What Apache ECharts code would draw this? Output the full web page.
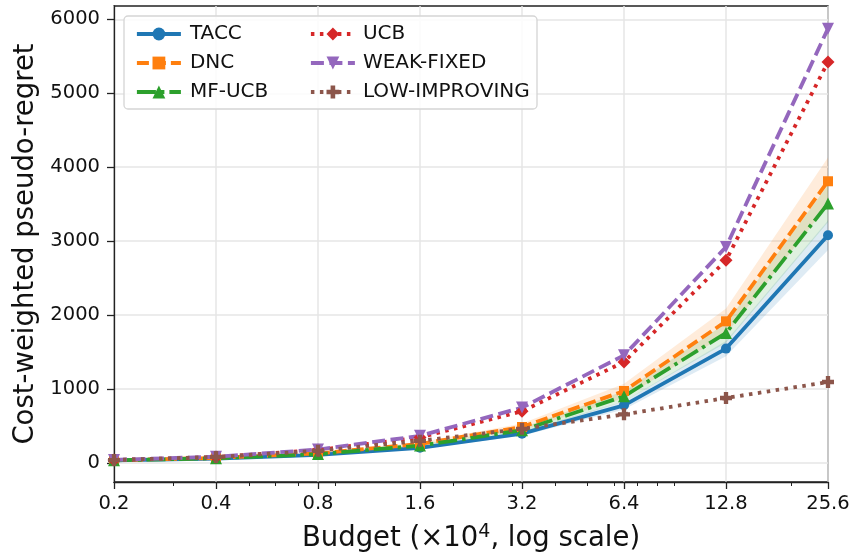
<!DOCTYPE html>
<html>
<head>
<meta charset="utf-8">
<script src="https://cdn.jsdelivr.net/npm/echarts@6/dist/echarts.min.js"></script>
<style>
html,body{margin:0;padding:0;background:#fff;}
#chart{width:855px;height:554px;}
</style>
</head>
<body>
<div id="chart"></div>
<script>
// ---- data ----
const budgets = [0.2, 0.4, 0.8, 1.6, 3.2, 6.4, 12.8, 25.6];
const xTickLabels = ['0.2', '0.4', '0.8', '1.6', '3.2', '6.4', '12.8', '25.6'];
const xMinorTicks = [0.3, 0.5, 0.6, 0.7, 0.9, 2, 3, 4, 5, 6, 7, 8, 9, 20];
const yTicks = [0, 1000, 2000, 3000, 4000, 5000, 6000];

const tacc = [35, 60, 110, 205, 397, 780, 1547, 3079];
const taccLo = [32, 54, 100, 188, 370, 725, 1445, 2880];
const taccHi = [38, 66, 120, 222, 425, 835, 1650, 3280];

const dnc = [38, 68, 130, 258, 487, 974, 1916, 3810];
const dncLo = [34, 61, 118, 234, 440, 878, 1742, 3490];
const dncHi = [42, 75, 142, 282, 535, 1070, 2090, 4130];

const mfucb = [36, 64, 120, 235, 442, 902, 1758, 3508];
const mfucbLo = [33, 58, 110, 216, 406, 832, 1626, 3256];
const mfucbHi = [39, 70, 130, 254, 478, 972, 1890, 3760];

const ucb = [40, 80, 175, 345, 699, 1366, 2741, 5423];
const weakFixed = [42, 85, 182, 368, 749, 1456, 2921, 5874];
const lowImproving = [40, 82, 165, 300, 462, 658, 879, 1095];

// ---- styling ----
const FONT = 'DejaVu Sans';
const C = {
  blue: '#1f77b4', orange: '#ff7f0e', green: '#2ca02c',
  red: '#d62728', purple: '#9467bd', brown: '#8c564b'
};
const TRI_DOWN = 'path://M0,0 L10,0 L5,10 Z';
const PLUS = 'path://M3.2,0 H6.8 V3.2 H10 V6.8 H6.8 V10 H3.2 V6.8 H0 V3.2 H3.2 Z';

function pairs(ys) { return budgets.map((b, i) => [b, ys[i]]); }

function lineSeries(name, ys, color, dash, symbol, size) {
  return {
    name: name, type: 'line', data: pairs(ys), xAxisIndex: 0, yAxisIndex: 0,
    symbol: symbol, symbolSize: size, showSymbol: true,
    lineStyle: { color: color, width: 3.8, type: dash, cap: 'butt' },
    itemStyle: { color: color, borderWidth: 0 },
    emphasis: { disabled: true }, z: 5, animation: false, clip: false
  };
}

function bandSeries(name, lo, hi, color) {
  return {
    name: name + '_band', type: 'custom', xAxisIndex: 0, yAxisIndex: 0,
    data: budgets.map((b, i) => [b, lo[i], hi[i]]),
    encode: { x: 0, y: [1, 2] },
    renderItem: function (params, api) {
      if (params.dataIndex !== 0) return null;
      const pts = [];
      for (let i = 0; i < budgets.length; i++) pts.push(api.coord([budgets[i], hi[i]]));
      for (let i = budgets.length - 1; i >= 0; i--) pts.push(api.coord([budgets[i], lo[i]]));
      return { type: 'polygon', shape: { points: pts }, style: { fill: color, opacity: 0.15 } };
    },
    silent: true, z: 3, animation: false, legendHoverLink: false
  };
}

const chart = echarts.init(document.getElementById('chart'), null, { renderer: 'canvas' });

const legendCommon = {
  orient: 'vertical', top: 18, itemWidth: 44, itemHeight: 16, itemGap: 7,
  textStyle: { fontFamily: FONT, fontSize: 20, color: '#111', lineHeight: 22 },
  lineStyle: { width: 3.8 },
  selectedMode: false, z: 10, backgroundColor: 'transparent'
};

const option = {
  backgroundColor: '#fff',
  animation: false,
  grid: { left: 114, right: 27, top: 6, bottom: 72, show: true, borderColor: '#222', borderWidth: 1.3, outerBoundsMode: 'none', containLabel: false },
  graphic: [{
    type: 'rect', shape: { x: 124, y: 16, width: 413, height: 93, r: 4 },
    style: { fill: 'rgba(255,255,255,0.85)', stroke: '#d5d5d5', lineWidth: 1.3 }, z: 8, silent: true
  }],
  legend: [
    Object.assign({}, legendCommon, { left: 130, data: ['TACC', 'DNC', 'MF-UCB'], textStyle: Object.assign({}, legendCommon.textStyle, { padding: [0, 0, 0, 4] }) }),
    Object.assign({}, legendCommon, { left: 304, data: ['UCB', 'WEAK-FIXED', 'LOW-IMPROVING'], textStyle: Object.assign({}, legendCommon.textStyle, { padding: [0, 0, 0, 3] }) })
  ],
  xAxis: [{
    type: 'log', logBase: 2, min: 0.2, max: 25.6, position: 'bottom',
    name: 'Budget (×10{sup|4}, log scale)', nameLocation: 'middle', nameGap: 41,
    nameTextStyle: { fontFamily: FONT, fontSize: 27.5, color: '#111',
      rich: { sup: { fontFamily: FONT, fontSize: 19, color: '#111', verticalAlign: 'top', padding: [0, 0, 13, 0] } } },
    axisLine: { show: true, onZero: false, lineStyle: { color: '#222', width: 1.3 } },
    axisTick: { show: true, length: 7, inside: false, customValues: budgets, lineStyle: { color: '#222', width: 1.3 } },
    axisLabel: { show: true, customValues: budgets, margin: 12, fontFamily: FONT, fontSize: 19.5, color: '#111',
      formatter: function (v) { const i = budgets.findIndex(b => Math.abs(b - v) < 1e-6); return i >= 0 ? xTickLabels[i] : ''; } },
    splitLine: { show: true, customValues: budgets, lineStyle: { color: '#e6e6e6', width: 1.5 } },
    minorTick: { show: false }, minorSplitLine: { show: false }
  }, {
    type: 'log', logBase: 2, min: 0.2, max: 25.6, position: 'bottom', gridIndex: 0,
    axisLine: { show: false, onZero: false },
    axisTick: { show: true, length: 4, inside: false, customValues: xMinorTicks, lineStyle: { color: '#222', width: 1 } },
    axisLabel: { show: false }, splitLine: { show: false }
  }],
  yAxis: [{
    type: 'value', min: -257, max: 6180, interval: 1000,
    name: 'Cost-weighted pseudo-regret', nameLocation: 'middle', nameGap: 74, nameRotate: 90,
    nameTextStyle: { fontFamily: FONT, fontSize: 27.5, color: '#111' },
    axisLine: { show: true, onZero: false, lineStyle: { color: '#222', width: 1.3 } },
    axisTick: { show: true, length: 7, inside: false, customValues: yTicks, lineStyle: { color: '#222', width: 1.3 } },
    axisLabel: { show: true, customValues: yTicks, margin: 14, fontFamily: FONT, fontSize: 19.5, color: '#111',
      formatter: function (v) { return String(Math.round(v)); } },
    splitLine: { show: true, customValues: yTicks, lineStyle: { color: '#e6e6e6', width: 1.5 } }
  }],
  series: [
    bandSeries('TACC', taccLo, taccHi, C.blue),
    bandSeries('DNC', dncLo, dncHi, C.orange),
    bandSeries('MF-UCB', mfucbLo, mfucbHi, C.green),
    lineSeries('TACC', tacc, C.blue, 'solid', 'circle', 10),
    lineSeries('DNC', dnc, C.orange, [12, 5], 'rect', 10),
    lineSeries('MF-UCB', mfucb, C.green, [19, 5, 3.5, 5], 'triangle', 12),
    lineSeries('UCB', ucb, C.red, [3.5, 5.5], 'diamond', 13),
    lineSeries('WEAK-FIXED', weakFixed, C.purple, [13, 5.5], TRI_DOWN, 12),
    lineSeries('LOW-IMPROVING', lowImproving, C.brown, [3.5, 5.5], PLUS, 12)
  ]
};
chart.setOption(option);
</script>
</body>
</html>
